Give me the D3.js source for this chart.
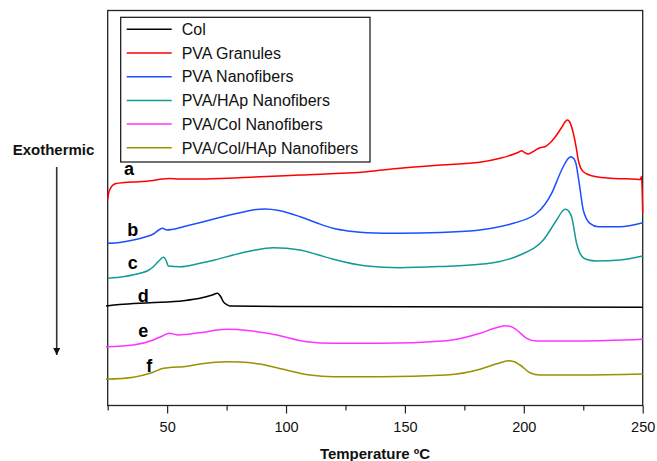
<!DOCTYPE html>
<html><head><meta charset="utf-8">
<script src="https://cdn.jsdelivr.net/npm/d3@7"></script>
<style>body{margin:0;background:#fff}svg{display:block}text{font-family:"Liberation Sans",Arial,sans-serif}</style>
</head><body><div id="chart"></div>
<script>
// Temperature (°C), signal (arbitrary heat-flow units, offset per curve)
const seriesNames = ["Col","PVA Granules","PVA Nanofibers","PVA/HAp Nanofibers","PVA/Col Nanofibers","PVA/Col/HAp Nanofibers"];
const seriesColors = ["#000000","#ff0000","#1a50ff","#139a96","#ff33ff","#9c9000"];
const curveLabels = ["a","b","c","d","e","f"];

const granulesPVA = [[25,206.2],[25.5,213.5],[26,216.5],[27,220],[28.5,222],[32,223],[38,223.7],[44,225],[48,226.5],[51,227],[55,226.5],[64,226.5],[80,227.7],[106,230.5],[134,233.8],[148,237.2],[165,240.5],[181.5,243.2],[190,247.2],[195.6,251.2],[198,253.5],[199.1,254.8],[200.3,253],[201.9,251.5],[204,254],[206.8,257.8],[208.9,258.8],[211,262.5],[213.5,269.5],[216,278.5],[217.5,284],[218.3,285.5],[219.3,283.5],[220.8,272.5],[222,258.5],[222.9,245.5],[225,233.8],[229,229.5],[235,227.5],[247.5,226.2],[249,226],[249.5,229],[250,192.5]];
const nanoPVA = [[25,162.2],[30,163],[35.8,165.5],[40,168],[44.2,171.5],[46.5,175.5],[48.1,177.2],[49.8,175.5],[52,176],[56.8,178.8],[64,183],[70.8,187.2],[80.6,192.8],[86,195.5],[91.2,196.5],[97,195],[105.9,188.8],[113,182.5],[119.8,177.2],[126,174.5],[133.9,172.8],[147.9,172.2],[165,173],[181.5,175.5],[195.6,182.2],[205.4,192.2],[211.7,212.2],[215.9,235.5],[218.5,246.5],[219.7,248.8],[221,247],[221.9,242.2],[223.3,222.2],[225,195.5],[227.8,182.2],[231.3,178.8],[240.4,178.8],[250,182.8]];
const nanoPVAHAp = [[25,127.2],[32,129],[38.6,132.2],[42,135],[44.2,138.8],[46.5,144.5],[48.4,148.2],[49.5,145.5],[50.5,139.5],[55.4,138.8],[63.8,142.2],[70,145.5],[77.8,150.5],[86,155],[94.6,157.8],[105.9,155.5],[113,151],[119.9,146.2],[133.9,139.5],[147.9,137.8],[165,139],[181.5,141.2],[198.4,150.5],[208.2,165.5],[213.8,185.5],[216.5,195],[217.7,196.2],[219,194],[220.1,188.8],[222.2,162.2],[224.3,149.5],[226.5,146],[230.6,144.5],[240.4,145.5],[250,149.5]];
const col = [[24.3,99.5],[30,101],[42.8,102.8],[56.8,104.8],[63.8,107.2],[69,110.5],[71.1,112.2],[72.5,109],[73.6,103.8],[75,101],[76.4,99.5],[100,99],[150,98.7],[250,98.2]];
const nanoPVACol = [[24.3,58.8],[35.8,60.5],[44.2,65.5],[48,69.5],[50.9,72.2],[54.7,70.5],[63.8,72.8],[75,76.2],[84.8,74.8],[96.1,70.5],[108.7,63.8],[119.9,62.2],[139.5,62.2],[167.6,64.8],[181.6,72.2],[188,77.5],[192.1,79.8],[194.5,79],[197,75.5],[201.2,67.2],[205.4,64.5],[223.6,64.5],[250,66.2]];
const nanoPVAColHAp = [[24.3,26.2],[35.8,28.2],[42.8,32.2],[48.4,37.2],[51.9,38.2],[56.8,38.8],[63.8,41.5],[75,43.8],[80.6,43.5],[89,41.5],[98.8,36.2],[110,30.5],[119.9,28.8],[139.5,28.8],[167.6,30.5],[181.6,36.2],[189,42],[193.5,44.8],[196,43.7],[198.4,40.5],[202.6,32.8],[206.8,30.5],[223.6,30.5],[250,31.5]];

const seriesData = [col, granulesPVA, nanoPVA, nanoPVAHAp, nanoPVACol, nanoPVAColHAp];
// curve letter anchors (temperature, signal) for a..f
const labelPos = [[34,230.5],[35.5,169.5],[35.5,136.5],[40,103.5],[40,68.5],[42.5,33.5]];

const majorTicks = [50,100,150,200,250];
const minorTicks = [25,75,125,175,225];

const W = 657, H = 461;
const pL = 107.7, pR = 642.7, pT = 10.5, pB = 405.5;
const svg = d3.select("#chart").append("svg").attr("width", W).attr("height", H);

const x = d3.scaleLinear().domain([25, 250]).range([pL, pR]);
const y = d3.scaleLinear().domain([0, 395]).range([pB, pT]);

// frame
svg.append("rect").attr("x", pL).attr("y", pT).attr("width", pR-pL).attr("height", pB-pT)
  .attr("fill","none").attr("stroke","#222").attr("stroke-width",1.3);

// bottom axis
const gx = svg.append("g").attr("transform", `translate(0,${pB})`);
gx.call(d3.axisBottom(x).tickValues(majorTicks).tickSize(8).tickFormat(d3.format("d")));
gx.select(".domain").remove();
gx.selectAll(".tick line").attr("stroke","#222").attr("stroke-width",1.2);
gx.selectAll(".tick text").attr("font-size",14.5).attr("fill","#111").attr("dy","1.1em").attr("font-family","'Liberation Sans',Arial,sans-serif");
const gxm = svg.append("g").attr("transform", `translate(0,${pB})`);
gxm.call(d3.axisBottom(x).tickValues(minorTicks).tickSize(5).tickFormat(""));
gxm.select(".domain").remove();
gxm.selectAll(".tick line").attr("stroke","#222").attr("stroke-width",1.2);

svg.append("text").attr("x", 375).attr("y", 459).attr("text-anchor","middle")
  .attr("font-size",15).attr("font-weight","bold").attr("fill","#111").text("Temperature ºC");

// Exothermic arrow
svg.append("text").attr("x", 53.5).attr("y", 154.5).attr("text-anchor","middle")
  .attr("font-size",15).attr("font-weight","bold").attr("fill","#111").text("Exothermic");
svg.append("defs").append("marker").attr("id","ah").attr("viewBox","0 0 10 10").attr("refX",10).attr("refY",5)
  .attr("markerWidth",15).attr("markerHeight",7).attr("markerUnits","userSpaceOnUse").attr("orient","auto")
  .append("path").attr("d","M0,0 L10,5 L0,10 Z").attr("fill","#111");
svg.append("line").attr("x1",56.7).attr("y1",167).attr("x2",56.7).attr("y2",355)
  .attr("stroke","#333").attr("stroke-width",1.6).attr("marker-end","url(#ah)");

// curves
const line = d3.line().x(d => x(d[0])).y(d => y(d[1])).curve(d3.curveMonotoneX);
seriesData.forEach((s, i) => {
  svg.append("path").datum(s).attr("d", line).attr("fill","none")
    .attr("stroke", seriesColors[i]).attr("stroke-width",1.5).attr("stroke-linejoin","round");
});

// curve letters
labelPos.forEach((p, k) => {
  svg.append("text").attr("x", x(p[0])).attr("y", y(p[1])).attr("text-anchor","middle")
    .attr("font-size",18).attr("font-weight","bold").attr("fill","#000").text(curveLabels[k]);
});

// legend
const lg = svg.append("g");
lg.append("rect").attr("x",120.7).attr("y",17.3).attr("width",249.3).attr("height",144.7)
  .attr("fill","#fff").attr("stroke","#111").attr("stroke-width",1.2);
seriesNames.forEach((n, i) => {
  const yy = 29.3 + i*23.7;
  lg.append("line").attr("x1",126.7).attr("x2",171.7).attr("y1",yy).attr("y2",yy)
    .attr("stroke",seriesColors[i]).attr("stroke-width",1.5);
  lg.append("text").attr("x",181.7).attr("y",yy+5.7).attr("font-size",16).attr("fill","#111").text(n);
});
</script></body></html>
